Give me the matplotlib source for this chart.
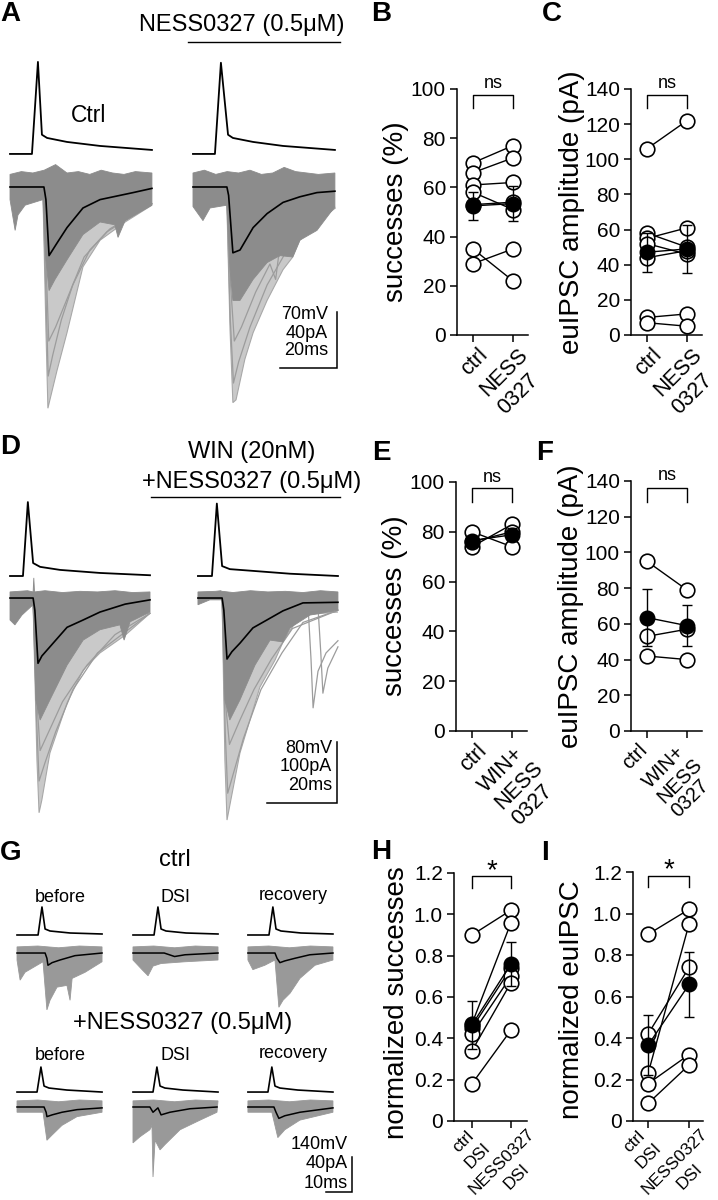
import numpy as np
import matplotlib
matplotlib.use("Agg")
import matplotlib.pyplot as plt
from matplotlib.lines import Line2D
from matplotlib.transforms import ScaledTranslation
from matplotlib.textpath import TextToPath
from matplotlib.font_manager import FontProperties

plt.rcParams['font.family'] = ['Liberation Sans', 'DejaVu Sans']

# ── Paired data ─────────────────────────────────────────────────────────────────
B_CTRL = [70, 66, 61, 58, 53, 35, 29]
B_NESS = [77, 72, 62, 51, 54, 22, 35]
B_MEAN = [52.5, 53.4]
B_SEM = [5.7, 7.2]

C_CTRL = [106, 58, 55, 52, 44, 10, 7]
C_NESS = [122, 50, 61, 46, 48, 12, 5]
C_MEAN = [47.1, 49.0]
C_SEM = [11.0, 13.5]

E_CTRL = [80, 74, 76]
E_NESS = [74, 83, 80]
E_MEAN = [76.5, 78.8]
E_SEM = [2.0, 2.6]

F_CTRL = [95, 53, 42]
F_NESS = [79, 57, 40]
F_MEAN = [63.5, 59.0]
F_SEM = [16.0, 11.4]

H_CTRL = [0.90, 0.47, 0.45, 0.42, 0.34, 0.18]
H_NESS = [1.02, 0.96, 0.74, 0.70, 0.67, 0.44]
H_MEAN = [0.465, 0.76]
H_SEM = [0.115, 0.105]

I_CTRL = [0.90, 0.23, 0.42, 0.18, 0.085]
I_NESS = [1.02, 0.95, 0.74, 0.32, 0.27]
I_MEAN = [0.366, 0.658]
I_SEM = [0.144, 0.158]

XL_B = [["ctrl"], ["NESS", "0327"]]
XL_E = [["ctrl"], ["WIN+", "NESS", "0327"]]
XL_H = [["ctrl", "DSI"], ["NESS0327", "DSI"]]

# ── Traces, key points (ms, pA / mV relative to baseline) ───────────────────────
# panel A
A_AP_CTRL_T = [0, 7.7, 9.8, 11.2, 13.0, 20.0, 31.6, 49.8]
A_AP_CTRL_MV = [0, 0, 115, 24, 20, 15, 10, 5]
A_AP_NESS_T = [0, 7.7, 9.8, 12.3, 14.0, 21.1, 31.6, 49.8]
A_AP_NESS_MV = [0, 0, 114, 24, 20, 15, 10, 5]
A_MEAN_CTRL_T = [0, 11.9, 12.6, 13.7, 16.5, 20.0, 25.6, 31.6, 43.2, 49.8]
A_MEAN_CTRL_PA = [0, 0, -9, -49, -40, -29, -15, -9, -4, -1]
A_MEAN_NESS_T = [0, 11.9, 12.5, 14.0, 16.5, 21.1, 26.0, 31.6, 37.5, 43.5, 49.8]
A_MEAN_NESS_PA = [0, 0, -6, -47, -45, -29, -19, -11, -7, -4, -3]
A_TOP_T = [0, 4, 8, 12, 16, 20, 24, 28, 32, 36, 40, 44, 49.8]
A_TOP_CTRL_PA = [9, 11, 10, 12, 16, 10, 11, 9, 12, 10, 9, 11, 10]
A_TOP_NESS_PA = [10, 12, 9, 11, 10, 12, 9, 10, 14, 11, 10, 9, 10]
A_LOW_CTRL_T = [0, 1.8, 2.8, 5.3, 11.6, 12.6, 13.7, 15.8, 20.0, 25.6, 31.6, 36.8, 37.9, 40.4, 49.8]
A_LOW_CTRL_PA = [-9, -31, -20, -13, -9, -52, -74, -66, -52, -34, -25, -27, -36, -24, -13]
A_DEEP_CTRL_T = [11.6, 12.6, 13.3, 14.0, 16.5, 20.0, 25.6, 31.6, 40.4, 49.8]
A_DEEP_CTRL_PA = [-9, -102, -158, -152, -131, -104, -57, -38, -25, -13]
A_LOW_NESS_T = [0, 3.5, 6.0, 11.9, 13.0, 14.0, 16.5, 21.1, 26.0, 30.5, 35.0, 37.5, 43.5, 49.8]
A_LOW_NESS_PA = [-14, -24, -15, -13, -59, -81, -81, -66, -54, -49, -50, -38, -31, -14]
A_DEEP_NESS_T = [11.9, 13.0, 14.0, 15.1, 18.2, 21.1, 26.0, 31.6, 35.0, 37.5, 49.8]
A_DEEP_NESS_PA = [-13, -102, -154, -152, -123, -104, -81, -59, -50, -38, -14]
# a few single sweeps inside the deep part
A_SW_CTRL = [
    ([11.6, 12.8, 13.4, 15.0, 18.0, 22.0, 28.0, 35.0, 49.8],
     [-5, -90, -135, -120, -95, -70, -45, -30, -12]),
    ([11.7, 12.9, 13.6, 16.0, 20.0, 26.0, 34.0, 49.8],
     [-5, -70, -110, -100, -80, -50, -32, -12]),
]
A_SW_NESS = [
    ([11.9, 13.1, 14.2, 16.0, 20.0, 26.0, 33.0, 49.8],
     [-8, -95, -140, -125, -100, -70, -45, -15]),
    ([11.9, 13.2, 14.5, 17.0, 22.0, 27.0, 29.0, 30.0, 34.0, 49.8],
     [-8, -70, -110, -100, -75, -55, -66, -50, -40, -15]),
]

# panel D
D_AP_CTRL_T = [0, 3.7, 5.1, 6.6, 8.6, 14.3, 25.7, 40]
D_AP_CTRL_MV = [0, 0, 97, 17, 12, 8, 4, 1]
D_AP_WIN_T = [0, 4.0, 5.4, 6.9, 9.1, 14.9, 26.3, 40]
D_AP_WIN_MV = [0, 0, 95, 13, 9, 7, 3, 0]
D_MEAN_CTRL_T = [0, 6.6, 7.1, 8.0, 9.1, 11.4, 16.3, 20.9, 25.7, 32.9, 40]
D_MEAN_CTRL_PA = [0, 0, -20, -107, -95, -80, -48, -36, -23, -10, -3]
D_MEAN_WIN_T = [0, 6.9, 7.4, 8.3, 9.7, 12.0, 15.7, 19.7, 24.3, 30.0, 40]
D_MEAN_WIN_PA = [0, 0, -20, -100, -88, -74, -49, -36, -21, -8, -7]
D_TOP_T = [0, 5, 6.6, 6.8, 7.0, 10, 15, 20, 25, 30, 35, 40]
D_TOP_CTRL_PA = [10, 12, 10, 33, 10, 12, 9, 11, 10, 12, 9, 10]
D_TOP_WIN_PA = [10, 11, 12, 10, 11, 9, 12, 10, 11, 9, 12, 10]
D_LOW_CTRL_T = [0, 1.4, 3.4, 6.6, 7.4, 8.6, 11.4, 16.3, 20.9, 25.7, 31.4, 32.6, 34.3, 40]
D_LOW_CTRL_PA = [-36, -44, -28, -11, -167, -200, -167, -110, -69, -52, -44, -69, -39, -23]
D_DEEP_CTRL_T = [6.6, 7.7, 8.3, 9.1, 11.4, 16.3, 20.9, 25.7, 32.9, 40]
D_DEEP_CTRL_PA = [-11, -266, -352, -331, -254, -172, -118, -90, -61, -25]
D_LOW_WIN_T = [0, 3.4, 6.9, 7.7, 9.1, 12.0, 16.3, 20.6, 24.3, 26.3, 32.0, 40]
D_LOW_WIN_PA = [-11, -3, -3, -167, -200, -167, -110, -69, -72, -49, -28, -20]
D_DEEP_WIN_T = [6.9, 7.7, 8.3, 9.4, 12.0, 17.7, 22.0, 24.3, 29.1, 40]
D_DEEP_WIN_PA = [-3, -266, -364, -331, -254, -146, -102, -72, -28, -23]
D_SW_CTRL = [
    ([6.6, 7.6, 8.3, 10.0, 13.0, 18.0, 25.0, 40.0],
     [-5, -200, -300, -270, -220, -150, -90, -25]),
    ([6.6, 7.8, 8.6, 11.0, 15.0, 22.0, 30.0, 40.0],
     [-5, -180, -250, -220, -170, -110, -60, -25]),
]
D_SW_WIN = [
    ([6.9, 7.8, 8.5, 10.0, 13.0, 18.0, 24.0, 30.0, 40.0],
     [-3, -220, -320, -290, -230, -150, -90, -40, -20]),
    ([6.9, 8.0, 9.0, 12.0, 16.0, 21.0, 27.0, 40.0],
     [-3, -180, -240, -200, -150, -100, -50, -20]),
    ([31.4, 32.3, 32.9, 34.3, 36.6, 40.0],
     [-8, -100, -180, -120, -90, -70]),
    ([34.3, 35.1, 35.7, 37.1, 40.0],
     [-15, -90, -156, -115, -80]),
]

# panel G (row 1 = ctrl, row 2 = +NESS0327)
G_AP1_T = [0, 8.1, 9.6, 10.8, 12.7, 20.4, 32.7]
G_AP1_MV = [0, 0, 112, 24, 16, 8, 4]
G_AP2_T = [0, 7.7, 9.2, 10.4, 12.3, 19.2, 32.7]
G_AP2_MV = [0, 0, 100, 24, 16, 8, 0]
G_TOP_T = [0, 8, 16, 24, 32.7]
G_TOP_PA = [7, 8, 6, 8, 7]

G_MEAN_CTRL_BEFORE_T = [0, 10.8, 11.5, 11.9, 13.5, 16.5, 22.3, 32.7]
G_MEAN_CTRL_BEFORE_PA = [0, 0, -6, -14, -11, -8, -3, 0]
G_MEAN_CTRL_DSI_T = [0, 12.0, 14.0, 16.0, 20.0, 32.7]
G_MEAN_CTRL_DSI_PA = [0, 0, -2, -4, -2, 0]
G_MEAN_CTRL_REC_T = [0, 10.4, 11.2, 12.3, 14.2, 18.1, 23.8, 32.7]
G_MEAN_CTRL_REC_PA = [0, 0, -6, -11, -9, -6, -2, 0]
G_MEAN_NESS_BEFORE_T = [0, 10.4, 11.2, 11.5, 13.5, 17.3, 23.1, 32.7]
G_MEAN_NESS_BEFORE_PA = [0, 0, -6, -11, -9, -6, -3, -1]
G_MEAN_NESS_DSI_T = [0, 6.5, 7.7, 9.6, 10.8, 14.2, 21.9, 32.3]
G_MEAN_NESS_DSI_PA = [0, 0, -6, -1, -9, -6, -2, 0]
G_MEAN_NESS_REC_T = [0, 10.0, 10.8, 11.9, 14.2, 20.0, 32.7]
G_MEAN_NESS_REC_PA = [0, 0, -6, -13, -10, -6, -1]

G_LOW_CTRL_BEFORE_T = [0, 1.2, 3.1, 10.0, 11.5, 12.7, 15.4, 19.2, 20.4, 21.2, 26.2, 32.7]
G_LOW_CTRL_BEFORE_PA = [-8, -31, -22, -10, -65, -54, -39, -37, -54, -29, -22, -10]
G_LOW_CTRL_DSI_T = [0, 3.8, 5.8, 7.7, 10.8, 20.0, 32.7]
G_LOW_CTRL_DSI_PA = [-8, -20, -26, -15, -12, -10, -8]
G_LOW_CTRL_REC_T = [0, 1.9, 6.5, 10.4, 11.9, 13.5, 16.2, 20.0, 25.8, 32.7]
G_LOW_CTRL_REC_PA = [-8, -19, -14, -8, -62, -54, -46, -29, -14, -8]
G_LOW_NESS_BEFORE_T = [0, 10.0, 11.5, 13.5, 17.3, 23.1, 32.7]
G_LOW_NESS_BEFORE_PA = [-6, -6, -38, -32, -21, -11, -6]
G_LOW_NESS_DSI_T = [0, 2.7, 6.5, 7.3, 7.7, 8.5, 10.4, 12.3, 18.1, 25.8, 32.3]
G_LOW_NESS_DSI_PA = [-41, -34, -26, -21, -80, -38, -49, -43, -26, -15, -6]
G_LOW_NESS_REC_T = [0, 9.2, 11.5, 14.2, 20.0, 32.7]
G_LOW_NESS_REC_PA = [-6, -6, -35, -26, -15, -6]

# ── Figure helpers ──────────────────────────────────────────────────────────────
W, H = 718, 1200
DPI = 100
fig = plt.figure(figsize=(W / DPI, H / DPI), dpi=DPI)

DARK = "#8c8c8c"
LIGHT = "#c9c9c9"
MID = "#999999"
SWEEP = "#9c9c9c"
FONT = "Liberation Sans"
_ttp = TextToPath()
R2 = np.sqrt(0.5)


def fx(x):
    return x / W


def fy(y):
    return 1 - y / H


def px_box(x0, y0, x1, y1):
    return [x0 / W, 1 - y1 / H, (x1 - x0) / W, (y1 - y0) / H]


def text_px(s, fs):
    w, _, _ = _ttp.get_text_width_height_descent(
        s, FontProperties(family=FONT, size=fs), ismath=False)
    return w * DPI / 72


def trace_axes(box, xlim, ylim):
    ax = fig.add_axes(box)
    ax.set_xlim(*xlim)
    ax.set_ylim(*ylim)
    ax.axis("off")
    return ax


def draw_cell(ax, t0, base, ap_t, ap_mv, ap_off, mv2pa, top_t, top_pa,
              low_t, low_pa, mean_t, mean_pa, deep_t=None, deep_pa=None,
              sweeps=(), fill_col=DARK, lw=1.2):
    top_t, top_pa = np.asarray(top_t), np.asarray(top_pa)
    low_t, low_pa = np.asarray(low_t), np.asarray(low_pa)
    if deep_t is not None:
        ax.fill(np.asarray(deep_t) + t0, np.asarray(deep_pa) + base,
                color=LIGHT, lw=0.8, ec="#a8a8a8", zorder=1)
    for st, sp in sweeps:
        ax.plot(np.asarray(st) + t0, np.asarray(sp) + base, color=SWEEP,
                lw=0.9, zorder=1.5)
    ax.fill(np.r_[top_t, low_t[::-1]] + t0, np.r_[top_pa, low_pa[::-1]] + base,
            color=fill_col, lw=0.6, ec=fill_col, zorder=2)
    ax.plot(np.asarray(mean_t) + t0, np.asarray(mean_pa) + base,
            color="black", lw=lw, zorder=4)
    ax.plot(np.asarray(ap_t) + t0, ap_off + np.asarray(ap_mv) * mv2pa,
            color="black", lw=lw + 0.1, zorder=4)


def scale_bar(ax, x, y, dx, dy, labels, lx, ly, fs=13):
    ax.plot([x - dx, x, x], [y, y, y + dy], color="black", lw=1.1,
            solid_joinstyle="miter")
    for lab, yy in zip(labels, ly):
        ax.text(lx, yy, lab, ha="right", va="center", fontsize=fs)


def rot_label(ax, xi, lines, fs, mode, dx, dy, lh_em):
    """45-degree tick label block, one text per line (screen px offsets)."""
    fpx = fs * DPI / 72
    lh = lh_em * fpx
    widths = [text_px(s, fs) for s in lines]
    L = max(widths)
    hb = lh * len(lines)
    if mode == "right":          # top-right corner of block at (dx, dy)
        tl = np.array([dx - R2 * L, dy + R2 * L])
    else:                        # rotated block centred under the tick
        tl = np.array([dx - R2 * (L + hb) / 2, dy + R2 * L])
    u = np.array([R2, -R2])      # along the text (screen, y down)
    n = np.array([R2, R2])       # down to next line
    for k, (s, w) in enumerate(zip(lines, widths)):
        shift = 0 if mode == "right" else (L - w) / 2
        p = tl + k * lh * n + shift * u
        tr = ax.get_xaxis_transform() + ScaledTranslation(
            p[0] / DPI, -p[1] / DPI, fig.dpi_scale_trans)
        ax.text(xi, 0, s, transform=tr, rotation=45, rotation_mode="anchor",
                ha="left", va="top", fontsize=fs, clip_on=False)


def pair_panel(box, ctrl, ness, mean, sem, ymax, ystep, tick_fmt, xlim,
               xlabels, mode, xfs, xoff, lh_em, bracket, star, star_y,
               star_fs):
    ax = fig.add_axes(box)
    x = np.array([0, 1])
    for a, b in zip(ctrl, ness):
        ax.plot(x, [a, b], color="black", lw=1.0, zorder=2)
        ax.plot(x, [a, b], "o", ms=10.5, mfc="white", mec="black", mew=1.2,
                zorder=3, clip_on=False)
    ax.plot(x, mean, "o-", color="black", ms=10.5, lw=1.0, zorder=5,
            clip_on=False)
    ax.errorbar(x, mean, yerr=sem, fmt="none", ecolor="black", elinewidth=1.0,
                capsize=3.5, capthick=1.0, zorder=6, clip_on=False)
    ax.set_xlim(*xlim)
    ax.set_ylim(0, ymax)
    yt = np.arange(0, ymax + ystep / 2, ystep)
    ax.set_yticks(yt)
    ax.set_yticklabels([tick_fmt(v) for v in yt], fontsize=15)
    ax.set_xticks(x)
    ax.set_xticklabels([])
    for xi, lines in zip(x, xlabels):
        rot_label(ax, xi, lines, xfs, mode, *xoff, lh_em)
    for s in ["top", "right"]:
        ax.spines[s].set_visible(False)
    for s in ["left", "bottom"]:
        ax.spines[s].set_linewidth(1.1)
    ax.tick_params(direction="out", length=5, width=1.1, pad=3)
    lo, hi = bracket
    ax.plot([0, 0, 1, 1], [lo, hi, hi, lo], color="black", lw=1.0,
            clip_on=False)
    ax.text(0.5, star_y, star, ha="center", va="center", fontsize=star_fs,
            clip_on=False)
    return ax


def ylab(x, y, s):
    fig.text(fx(x), fy(y), s, rotation=90, ha="center", va="center",
             fontsize=20)


def letter(x, y, s):
    fig.text(fx(x), fy(y), s, ha="center", va="center", fontsize=20,
             fontweight="bold")


# ── Panel A ─────────────────────────────────────────────────────────────────────
axA = trace_axes(px_box(0, 45, 360, 420), (-3.51, 122.8), (-166.4, 101.4))
draw_cell(axA, 0, 0, A_AP_CTRL_T, A_AP_CTRL_MV, 23.6, 40 / 70,
          A_TOP_T, A_TOP_CTRL_PA, A_LOW_CTRL_T, A_LOW_CTRL_PA,
          A_MEAN_CTRL_T, A_MEAN_CTRL_PA, A_DEEP_CTRL_T, A_DEEP_CTRL_PA,
          sweeps=A_SW_CTRL)
draw_cell(axA, 64.2, 0, A_AP_NESS_T, A_AP_NESS_MV, 23.6, 40 / 70,
          A_TOP_T, A_TOP_NESS_PA, A_LOW_NESS_T, A_LOW_NESS_PA,
          A_MEAN_NESS_T, A_MEAN_NESS_PA, A_DEEP_NESS_T, A_DEEP_NESS_PA,
          sweeps=A_SW_NESS)
scale_bar(axA, 114.7, -129.3, 20, 40, ["70mV", "40pA", "20ms"], 111.6,
          [-91.4, -104.3, -117.1])
letter(10, 14, "A")
fig.text(fx(242), fy(25), "NESS0327 (0.5μM)", ha="center", va="center",
         fontsize=17)
fig.add_artist(Line2D([fx(188), fx(340)], [fy(42), fy(42)], color="black",
                      lw=1.0))
fig.text(fx(89), fy(115), "Ctrl", ha="center", va="center", fontsize=16.5)

# ── Panel D ─────────────────────────────────────────────────────────────────────
axD = trace_axes(px_box(0, 500, 360, 830), (-2.86, 100), (-380.3, 160.7))
draw_cell(axD, 0, 0, D_AP_CTRL_T, D_AP_CTRL_MV, 36.1, 100 / 80,
          D_TOP_T, D_TOP_CTRL_PA, D_LOW_CTRL_T, D_LOW_CTRL_PA,
          D_MEAN_CTRL_T, D_MEAN_CTRL_PA, D_DEEP_CTRL_T, D_DEEP_CTRL_PA,
          sweeps=D_SW_CTRL)
draw_cell(axD, 53.7, 0, D_AP_WIN_T, D_AP_WIN_MV, 36.1, 100 / 80,
          D_TOP_T, D_TOP_WIN_PA, D_LOW_WIN_T, D_LOW_WIN_PA,
          D_MEAN_WIN_T, D_MEAN_WIN_PA, D_DEEP_WIN_T, D_DEEP_WIN_PA,
          sweeps=D_SW_WIN)
scale_bar(axD, 93.4, -336, 20, 100, ["80mV", "100pA", "20ms"], 92,
          [-245.9, -277, -306.6])
letter(10, 447, "D")
fig.text(fx(252), fy(452), "WIN (20nM)", ha="center", va="center",
         fontsize=17)
fig.text(fx(252), fy(482), "+NESS0327 (0.5μM)", ha="center", va="center",
         fontsize=17)
fig.add_artist(Line2D([fx(151), fx(340)], [fy(497), fy(497)], color="black",
                      lw=1.0))

# ── Panel G ─────────────────────────────────────────────────────────────────────
axG = trace_axes(px_box(0, 900, 360, 1200), (-6.54, 131.9), (-282.3, 60.6))
G_COLS = [0, 44.6, 88.8]
G_ROWS = [(0, 20.6, G_AP1_T, G_AP1_MV), (-176, -158.9, G_AP2_T, G_AP2_MV)]
G_CELLS = [
    [(G_LOW_CTRL_BEFORE_T, G_LOW_CTRL_BEFORE_PA, G_MEAN_CTRL_BEFORE_T, G_MEAN_CTRL_BEFORE_PA),
     (G_LOW_CTRL_DSI_T, G_LOW_CTRL_DSI_PA, G_MEAN_CTRL_DSI_T, G_MEAN_CTRL_DSI_PA),
     (G_LOW_CTRL_REC_T, G_LOW_CTRL_REC_PA, G_MEAN_CTRL_REC_T, G_MEAN_CTRL_REC_PA)],
    [(G_LOW_NESS_BEFORE_T, G_LOW_NESS_BEFORE_PA, G_MEAN_NESS_BEFORE_T, G_MEAN_NESS_BEFORE_PA),
     (G_LOW_NESS_DSI_T, G_LOW_NESS_DSI_PA, G_MEAN_NESS_DSI_T, G_MEAN_NESS_DSI_PA),
     (G_LOW_NESS_REC_T, G_LOW_NESS_REC_PA, G_MEAN_NESS_REC_T, G_MEAN_NESS_REC_PA)],
]
for (base, ap_off, ap_t, ap_mv), row in zip(G_ROWS, G_CELLS):
    for t0, (lt, lp, mt, mp) in zip(G_COLS, row):
        draw_cell(axG, t0, base, ap_t, ap_mv, ap_off, 40 / 140, G_TOP_T,
                  G_TOP_PA, lt, lp, mt, mp, fill_col=MID, lw=1.1)
scale_bar(axG, 128.8, -273.1, 10, 40, ["140mV", "40pA", "10ms"], 127.3,
          [-219.4, -241.1, -262.9])
letter(11, 853, "G")
fig.text(fx(175), fy(860), "ctrl", ha="center", va="center", fontsize=17)
fig.text(fx(183), fy(1023), "+NESS0327 (0.5μM)", ha="center", va="center",
         fontsize=17)
for (cx, cy1, cy2, s) in [(60, 897, 1056, "before"), (176, 897, 1056, "DSI"),
                          (293, 895, 1053, "recovery")]:
    fig.text(fx(cx), fy(cy1), s, ha="center", va="center", fontsize=13)
    fig.text(fx(cx), fy(cy2), s, ha="center", va="center", fontsize=13)

# ── Scatter panels ──────────────────────────────────────────────────────────────
pct = lambda v: f"{v:.0f}"
dec = lambda v: "0" if v == 0 else f"{v:.1f}"

pair_panel(px_box(457, 89, 528, 335), B_CTRL, B_NESS, B_MEAN, B_SEM, 100, 20,
           pct, (-0.4, 1.375), XL_B, "right", 15.5, (4, 9), 1.18,
           (92.3, 97.6), "ns", 102.4, 13)
pair_panel(px_box(631, 89, 702, 335), C_CTRL, C_NESS, C_MEAN, C_SEM, 140, 20,
           pct, (-0.4, 1.375), XL_B, "right", 15.5, (4, 9), 1.18,
           (129.2, 136.6), "ns", 143.4, 13)
pair_panel(px_box(456, 482, 527, 731), E_CTRL, E_NESS, E_MEAN, E_SEM, 100, 20,
           pct, (-0.4, 1.375), XL_E, "right", 15.5, (4, 9), 1.1,
           (92.0, 97.6), "ns", 102.0, 13)
pair_panel(px_box(631, 481, 702, 731), F_CTRL, F_NESS, F_MEAN, F_SEM, 140, 20,
           pct, (-0.4, 1.375), XL_E, "right", 14.5, (-9, 9), 1.0,
           (128.0, 136.0), "ns", 142.8, 13)
pair_panel(px_box(454, 873, 527, 1121), H_CTRL, H_NESS, H_MEAN, H_SEM, 1.2, 0.2,
           dec, (-0.46, 1.41), XL_H, "center", 12.5, (0, 5), 1.18,
           (1.127, 1.186), "*", 1.21, 20)
pair_panel(px_box(633, 872, 703, 1121), I_CTRL, I_NESS, I_MEAN, I_SEM, 1.2, 0.2,
           dec, (-0.37, 1.34), XL_H, "center", 12.5, (-5, 5), 1.18,
           (1.13, 1.18), "*", 1.21, 20)

ylab(396, 212, "successes (%)")
ylab(572, 212, "euIPSC amplitude (pA)")
ylab(395, 606, "successes (%)")
ylab(571, 606, "euIPSC amplitude (pA)")
ylab(397, 1003, "normalized successes")
ylab(572, 1000, "normalized euIPSC")

letter(381, 14, "B")
letter(552, 14, "C")
letter(381, 453, "E")
letter(545, 453, "F")
letter(381, 852, "H")
letter(545, 853, "I")

fig.savefig("out.png", dpi=DPI)
